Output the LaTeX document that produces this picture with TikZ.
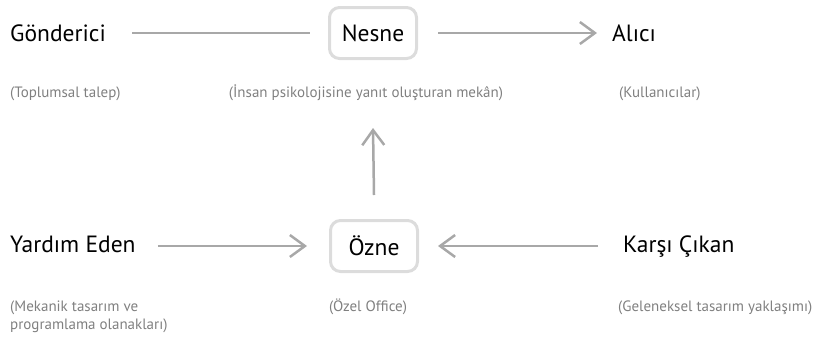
\documentclass[tikz,border=0pt]{standalone}
\usepackage{fontspec}
\setmainfont{PT Sans}
\usetikzlibrary{arrows.meta}
\definecolor{linegray}{HTML}{A8A8A8}
\definecolor{boxgray}{HTML}{DCDCDC}
\definecolor{subgray}{HTML}{808080}
\tikzset{
  x=1pt,y=-1pt,
  main/.style={font=\fontsize{23.5}{28}\selectfont, text=black, inner sep=0pt},
  sub/.style={font=\fontsize{15}{18}\selectfont, text=subgray, inner sep=0pt, align=left},
  boxnode/.style={draw=boxgray, line width=3pt, rounded corners=10pt, minimum width=87pt, minimum height=51pt, font=\fontsize{23.5}{28}\selectfont, inner sep=0pt},
  conn/.style={draw=linegray, line width=2.5pt},
  arr/.style={conn, -{Straight Barb[length=15pt,width=22pt]}},
}
\begin{document}
\begin{tikzpicture}
\useasboundingbox (0,0) rectangle (813,341);
% top row
\node[main, anchor=base west] (gon) at (10,41) {Gönderici};
\node[boxnode] (nesne) at (373,33) {Nesne};
\node[main, anchor=base west] (alici) at (612,41) {Alıcı};
\node[sub, anchor=base west] (gons) at (10,97) {(Toplumsal talep)};
\node[sub, anchor=base] (nesnes) at (366,97) {(İnsan psikolojisine yanıt oluşturan mekân)};
\node[sub, anchor=base west] (alicis) at (619,97) {(Kullanıcılar)};
% bottom row
\node[main, anchor=base west] (yard) at (10,252) {Yardım Eden};
\node[boxnode] (ozne) at (374,246) {Özne};
\node[main, anchor=base west] (karsi) at (623,252) {Karşı Çıkan};
\node[sub, anchor=base west] (yards) at (10,329) {(Mekanik tasarım ve\\programlama olanakları)};
\node[sub, anchor=base] (oznes) at (368,311) {(Özel Office)};
\node[sub, anchor=base west] (karsis) at (618,311) {(Geleneksel tasarım yaklaşımı)};
% connectors
\draw[conn] ([xshift=26pt]gon.east |- nesne.west) -- ([xshift=-18pt]nesne.west);
\draw[arr] ([xshift=20pt]nesne.east) -- ([xshift=-15pt]alici.west |- nesne.east);
\draw[arr] ([xshift=22pt]yard.east |- ozne.west) -- ([xshift=-22pt]ozne.west);
\draw[arr] ([xshift=-25pt]karsi.west |- ozne.east) -- ([xshift=19pt]ozne.east);
\draw[arr] ([yshift=24pt]ozne.north) -- ([yshift=-68pt]nesne.south);
\end{tikzpicture}
\end{document}
